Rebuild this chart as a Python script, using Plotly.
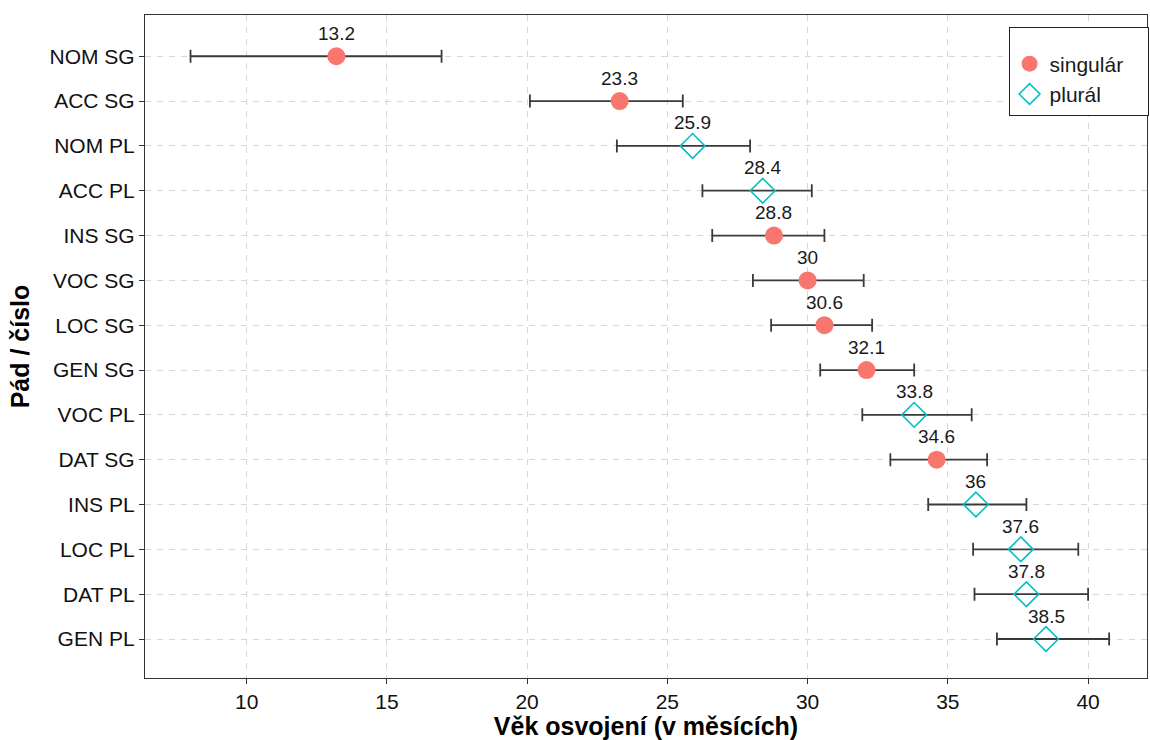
import plotly.graph_objects as go

# Acquisition age per case/number form, with interval bounds
categories = ["NOM SG", "ACC SG", "NOM PL", "ACC PL", "INS SG", "VOC SG", "LOC SG",
              "GEN SG", "VOC PL", "DAT SG", "INS PL", "LOC PL", "DAT PL", "GEN PL"]
number = ["singulár", "singulár", "plurál", "plurál", "singulár", "singulár", "singulár",
          "singulár", "plurál", "singulár", "plurál", "plurál", "plurál", "plurál"]
age = [13.2, 23.3, 25.9, 28.4, 28.8, 30.0, 30.6, 32.1, 33.8, 34.6, 36.0, 37.6, 37.8, 38.5]
lower = [8.0, 20.1, 23.2, 26.25, 26.6, 28.05, 28.7, 30.45, 31.95, 32.95, 34.3, 35.9, 35.95, 36.75]
upper = [16.95, 25.55, 27.95, 30.15, 30.6, 32.0, 32.3, 33.8, 35.85, 36.4, 37.8, 39.65, 40.0, 40.75]
x_ticks = [10, 15, 20, 25, 30, 35, 40]

FONT = "Liberation Sans, Arial, Helvetica, sans-serif"
styles = {
    "singulár": dict(symbol="circle", size=18, color="#F8766D",
                     line=dict(width=0)),
    "plurál": dict(symbol="diamond-open", size=19, color="#00BFC4",
                   line=dict(width=1.6, color="#00BFC4")),
}

fig = go.Figure()
for grp in ["singulár", "plurál"]:
    idx = [i for i, g in enumerate(number) if g == grp]
    xs = [age[i] for i in idx]
    fig.add_trace(go.Scatter(
        x=xs,
        y=[categories[i] for i in idx],
        mode="markers",
        name=grp,
        marker=styles[grp],
        error_x=dict(
            type="data", symmetric=False,
            array=[upper[i] - age[i] for i in idx],
            arrayminus=[age[i] - lower[i] for i in idx],
            color="#3a3a3a", thickness=1.8, width=6.5,
        ),
    ))

# value labels above each point
for c, v in zip(categories, age):
    fig.add_annotation(x=v, y=c, text=f"{v:g}", showarrow=False, yshift=23,
                       font=dict(family=FONT, size=19, color="#1a1a1a"))

axis_common = dict(
    showgrid=True, gridcolor="#d6d6d6", gridwidth=1, griddash="6px,6px",
    showline=True, linecolor="#333333", linewidth=1.3, mirror=True,
    ticks="outside", ticklen=5, tickcolor="#333333", tickwidth=1,
    tickfont=dict(family=FONT, size=21, color="#111111"),
    zeroline=False,
)

# blank legend heading, wide enough to give the box its width
legend_heading = "\u00a0" * 40

fig.update_layout(
    width=1150, height=740,
    margin=dict(l=145, r=2, t=15, b=62),
    paper_bgcolor="white", plot_bgcolor="white",
    font=dict(family=FONT, color="#1a1a1a"),
    xaxis=dict(
        range=[6.377, 42.1], tickvals=x_ticks,
        title=dict(text="<b>Věk osvojení (v měsících)</b>", standoff=6,
                   font=dict(family=FONT, size=25, color="black")),
        **axis_common,
    ),
    yaxis=dict(
        type="category", categoryorder="array", categoryarray=categories,
        range=[13.87, -0.92],
        title=dict(text="<b>Pád / číslo</b>", standoff=12,
                   font=dict(family=FONT, size=25, color="black")),
        **axis_common,
    ),
    legend=dict(
        x=0.861, y=0.982, xanchor="left", yanchor="top",
        bgcolor="white", bordercolor="#222222", borderwidth=1,
        font=dict(family=FONT, size=21, color="#1a1a1a"),
        title=dict(text=legend_heading, font=dict(size=12)),
        itemwidth=30,
    ),
    showlegend=True,
)

fig.write_html("out.html")
